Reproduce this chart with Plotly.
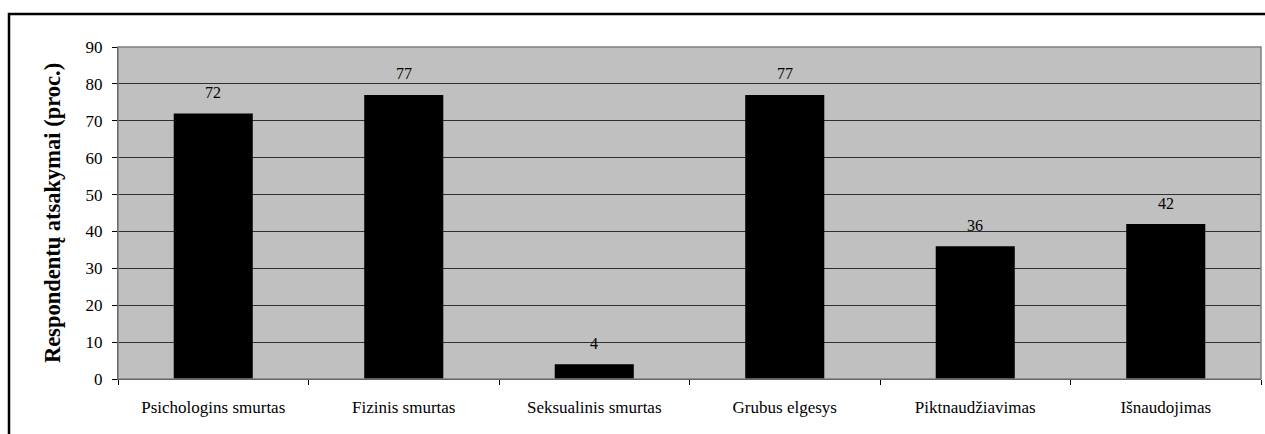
import plotly.graph_objects as go

categories = ["Psichologins smurtas", "Fizinis smurtas", "Seksualinis smurtas",
              "Grubus elgesys", "Piktnaudžiavimas", "Išnaudojimas"]
values = [72, 77, 4, 77, 36, 42]
y_ticks = [0, 10, 20, 30, 40, 50, 60, 70, 80, 90]
y_title = "Respondentų atsakymai (proc.)"

W, H = 1265, 434
ML, MR, MT, MB = 118, 4, 47, 55
pw = W - ML - MR
ph = H - MT - MB

font_family = "Liberation Serif, Times New Roman, serif"

fig = go.Figure()
fig.add_trace(go.Bar(
    x=categories, y=values,
    marker=dict(color="black", line=dict(width=0)),
    hoverinfo="x+y",
))

for c, v in zip(categories, values):
    fig.add_annotation(x=c, y=v, text=str(v), showarrow=False,
                       yshift=21, font=dict(family=font_family, size=16, color="black"))

# plot area border (gray)
fig.add_shape(type="rect", xref="paper", yref="paper", x0=0, y0=0, x1=1, y1=1,
              line=dict(color="#808080", width=1.5), fillcolor="rgba(0,0,0,0)", layer="above")
# outer chart border
fig.add_shape(type="rect", xref="paper", yref="paper",
              x0=(9 - ML) / pw, y0=-0.5, x1=1.2, y1=1 + (MT - 14) / ph,
              line=dict(color="black", width=2.5), fillcolor="rgba(0,0,0,0)")

fig.update_layout(
    width=W, height=H,
    margin=dict(l=ML, r=MR, t=MT, b=MB, pad=0),
    paper_bgcolor="white",
    plot_bgcolor="#C0C0C0",
    bargap=0.585,
    showlegend=False,
    font=dict(family=font_family, size=16, color="black"),
    xaxis=dict(
        type="category",
        tickson="boundaries",
        ticks="outside", ticklen=5, tickcolor="black", tickwidth=1,
        showline=True, linecolor="#202020", linewidth=1,
        showgrid=False,
        tickfont=dict(family=font_family, size=17, color="black"),
        ticklabelstandoff=13,
    ),
    yaxis=dict(
        range=[0, 90],
        tickvals=y_ticks,
        ticks="outside", ticklen=5, tickcolor="black", tickwidth=1,
        showline=True, linecolor="#202020", linewidth=1,
        showgrid=True, gridcolor="#303030", gridwidth=1,
        zeroline=False,
        tickfont=dict(family=font_family, size=17, color="black"),
        ticklabelstandoff=6,
        title=dict(text="<b>" + y_title + "</b>", standoff=18,
                   font=dict(family=font_family, size=22.5, color="black")),
    ),
)

fig.write_html("out.html", config={"displayModeBar": False},
               post_script="document.body.style.margin='0';document.body.style.overflow='hidden';")
